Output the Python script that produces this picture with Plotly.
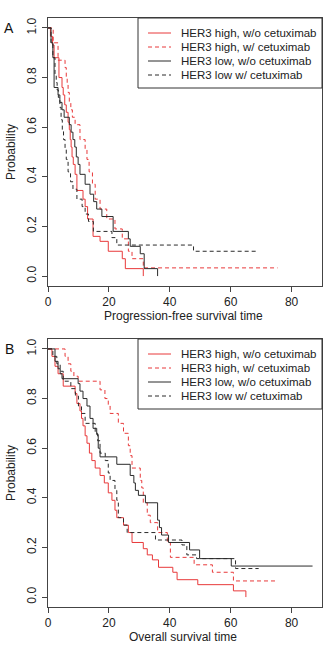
import plotly.graph_objects as go

# ---------------- data ----------------
series_names = ["HER3 high, w/o cetuximab", "HER3 high, w/ cetuximab",
                "HER3 low, w/o cetuximab", "HER3 low w/ cetuximab"]

# Panel A: progression-free survival
pfs_hi_wo_t = [0, 0.8, 1.5, 2.0, 3.6, 4.6, 5.0, 5.5, 6.0, 6.6, 7.0, 7.3, 7.6, 7.9, 8.3, 8.9, 9.5, 11.5, 12.2, 13.0, 14.8, 17.1, 19.8, 24.4, 25.4, 31.3]
pfs_hi_wo_s = [1.0, 0.966, 0.931, 0.88, 0.80, 0.76, 0.73, 0.69, 0.66, 0.62, 0.59, 0.55, 0.52, 0.48, 0.45, 0.41, 0.345, 0.31, 0.28, 0.23, 0.16, 0.14, 0.10, 0.07, 0.03, 0.0]

pfs_hi_w_t = [0, 1.7, 3.3, 5.6, 6.0, 6.3, 6.6, 7.0, 7.5, 8.0, 8.9, 10.5, 12.2, 12.8, 13.5, 14.6, 15.5, 17.1, 19.3, 22.0, 24.4, 26.4, 27.6, 31.3, 75.4]
pfs_hi_w_s = [1.0, 0.94, 0.87, 0.84, 0.80, 0.77, 0.74, 0.70, 0.67, 0.64, 0.61, 0.55, 0.51, 0.47, 0.42, 0.37, 0.31, 0.27, 0.23, 0.19, 0.15, 0.10, 0.07, 0.033, 0.033]

pfs_lo_wo_t = [0, 1.0, 1.6, 2.0, 3.3, 3.9, 4.6, 5.3, 7.0, 7.6, 8.2, 8.8, 9.3, 9.9, 10.5, 12.2, 13.8, 15.0, 16.0, 17.7, 21.4, 26.4, 27.0, 30.3, 31.6, 36.0]
pfs_lo_wo_s = [1.0, 0.94, 0.88, 0.76, 0.73, 0.70, 0.67, 0.64, 0.61, 0.58, 0.55, 0.52, 0.48, 0.45, 0.41, 0.37, 0.33, 0.30, 0.27, 0.24, 0.18, 0.15, 0.12, 0.09, 0.03, 0.0]

pfs_lo_w_t = [0, 1.0, 1.6, 2.3, 2.7, 3.0, 3.4, 3.9, 4.3, 4.7, 5.1, 5.6, 6.0, 6.6, 7.4, 8.2, 9.5, 11.2, 12.2, 13.3, 14.9, 21.0, 22.6, 47.8, 68.9]
pfs_lo_w_s = [1.0, 0.94, 0.88, 0.81, 0.78, 0.75, 0.72, 0.68, 0.63, 0.59, 0.55, 0.51, 0.47, 0.42, 0.38, 0.35, 0.31, 0.28, 0.25, 0.22, 0.18, 0.155, 0.125, 0.10, 0.10]

# Panel B: overall survival
os_hi_wo_t = [0, 1.3, 2.3, 3.3, 5.0, 8.9, 9.5, 10.5, 11.0, 11.5, 12.2, 12.8, 13.6, 14.4, 15.5, 17.1, 18.5, 19.8, 21.0, 22.0, 22.6, 24.8, 26.4, 27.6, 31.3, 32.6, 34.3, 36.3, 41.0, 42.4, 49.2, 60.9, 65.0]
os_hi_wo_s = [1.0, 0.97, 0.93, 0.90, 0.85, 0.82, 0.78, 0.75, 0.72, 0.69, 0.65, 0.62, 0.58, 0.55, 0.52, 0.49, 0.46, 0.42, 0.39, 0.35, 0.32, 0.29, 0.26, 0.22, 0.195, 0.17, 0.15, 0.12, 0.10, 0.07, 0.05, 0.025, 0.0]

os_hi_w_t = [0, 5.6, 6.6, 7.5, 8.5, 9.9, 17.1, 18.7, 19.8, 20.4, 23.1, 24.8, 26.4, 27.0, 27.6, 30.3, 30.8, 31.3, 32.6, 33.6, 36.0, 39.2, 40.2, 48.0, 54.0, 60.9, 75.4]
os_hi_w_s = [1.0, 0.97, 0.94, 0.91, 0.89, 0.87, 0.835, 0.80, 0.77, 0.74, 0.70, 0.66, 0.61, 0.57, 0.52, 0.47, 0.44, 0.38, 0.33, 0.30, 0.26, 0.22, 0.16, 0.13, 0.10, 0.065, 0.065]

os_lo_wo_t = [0, 2.3, 3.3, 4.0, 4.6, 9.9, 10.5, 11.5, 12.8, 13.8, 14.8, 16.0, 16.5, 17.1, 22.6, 27.0, 28.2, 28.7, 29.7, 32.0, 36.0, 36.6, 37.3, 39.6, 46.5, 49.8, 60.2, 86.9]
os_lo_wo_s = [1.0, 0.95, 0.92, 0.90, 0.88, 0.86, 0.83, 0.80, 0.77, 0.72, 0.68, 0.655, 0.60, 0.565, 0.535, 0.49, 0.46, 0.43, 0.41, 0.38, 0.31, 0.28, 0.25, 0.22, 0.19, 0.155, 0.125, 0.125]

os_lo_w_t = [0, 1.6, 2.9, 4.0, 5.0, 7.5, 9.0, 10.0, 11.0, 12.2, 15.5, 16.3, 17.1, 18.8, 19.8, 20.4, 22.0, 22.6, 23.1, 24.8, 26.0, 35.3, 44.0, 45.6, 48.8, 61.6, 69.2]
os_lo_w_s = [1.0, 0.97, 0.94, 0.91, 0.87, 0.84, 0.81, 0.77, 0.74, 0.70, 0.66, 0.63, 0.58, 0.55, 0.50, 0.47, 0.43, 0.39, 0.32, 0.29, 0.26, 0.23, 0.21, 0.17, 0.155, 0.115, 0.115]

x_ticks = [0, 20, 40, 60, 80]
y_ticks = [0.0, 0.2, 0.4, 0.6, 0.8, 1.0]
y_tick_labels = ["0.0", "0.2", "0.4", "0.6", "0.8", "1.0"]
x_titles = ["Progression-free survival time", "Overall survival time"]
panel_labels = ["A", "B"]

# ---------------- styling ----------------
RED = "#e8393a"
BLK = "#2a2a2a"
FONT = "Liberation Sans, Arial, Helvetica, sans-serif"
styles = [(RED, "solid"), (RED, "4px,3px"), (BLK, "solid"), (BLK, "4px,3px")]

W, H = 326, 647
ML, MR, MT, MB = 48, 4, 18, 40
PW, PH = W - ML - MR, H - MT - MB

def px_x(px):
    return (px - ML) / PW

def px_y(py):
    return (H - MB - py) / PH

fig = go.Figure()

panels = [
    ([pfs_hi_wo_t, pfs_hi_w_t, pfs_lo_wo_t, pfs_lo_w_t],
     [pfs_hi_wo_s, pfs_hi_w_s, pfs_lo_wo_s, pfs_lo_w_s], "x", "y"),
    ([os_hi_wo_t, os_hi_w_t, os_lo_wo_t, os_lo_w_t],
     [os_hi_wo_s, os_hi_w_s, os_lo_wo_s, os_lo_w_s], "x2", "y2"),
]

for ts, ss, xa, ya in panels:
    for name, t, s, (col, dash) in zip(series_names, ts, ss, styles):
        fig.add_trace(go.Scatter(x=t, y=s, mode="lines", line_shape="hv",
                                 line=dict(color=col, width=1, dash=dash),
                                 name=name, showlegend=False, xaxis=xa, yaxis=ya,
                                 hoverinfo="skip"))

# panel boxes in pixel terms
box_top = [18, 339]
box_bot = [286, 607]

axis_common = dict(showline=True, mirror=True, linecolor="#444", linewidth=1,
                   showgrid=False, zeroline=False, ticks="outside", ticklen=5,
                   tickcolor="#444", tickwidth=1,
                   tickfont=dict(family=FONT, size=12, color="#222"))

fig.update_layout(
    width=W, height=H,
    margin=dict(l=ML, r=MR, t=MT, b=MB, pad=0),
    paper_bgcolor="white", plot_bgcolor="white",
    showlegend=False,
    xaxis=dict(domain=[0, 1], range=[0, 90], tickvals=x_ticks, anchor="y", **axis_common),
    yaxis=dict(domain=[px_y(box_bot[0]), px_y(box_top[0])], range=[-0.04, 1.04],
               tickvals=y_ticks, ticktext=y_tick_labels, tickangle=-90, anchor="x",
               ticklabelstandoff=1, **axis_common),
    xaxis2=dict(domain=[0, 1], range=[0, 90], tickvals=x_ticks, anchor="y2", **axis_common),
    yaxis2=dict(domain=[px_y(box_bot[1]), px_y(box_top[1])], range=[-0.04, 1.04],
                tickvals=y_ticks, ticktext=y_tick_labels, tickangle=-90, anchor="x2",
                ticklabelstandoff=1, **axis_common),
)

annotations = []
shapes = []
for i in range(2):
    top, bot = box_top[i], box_bot[i]
    mid = (top + bot) / 2
    # axis titles
    annotations.append(dict(text=x_titles[i], xref="paper", yref="paper",
                            x=px_x(183), y=px_y(bot + 30), xanchor="center", yanchor="middle",
                            showarrow=False, font=dict(family=FONT, size=12, color="#222")))
    annotations.append(dict(text="Probability", xref="paper", yref="paper",
                            x=px_x(11), y=px_y(mid), xanchor="center", yanchor="middle",
                            textangle=-90, showarrow=False,
                            font=dict(family=FONT, size=12, color="#222")))
    annotations.append(dict(text=panel_labels[i], xref="paper", yref="paper",
                            x=px_x(9), y=px_y(top + 10), xanchor="center", yanchor="middle",
                            showarrow=False, font=dict(family=FONT, size=14, color="#111")))
    # legend
    lx0, lx1 = 138, W - MR
    ly0, ly1 = top, top + 70
    shapes.append(dict(type="rect", xref="paper", yref="paper",
                       x0=px_x(lx0), x1=px_x(lx1), y0=px_y(ly1), y1=px_y(ly0),
                       line=dict(color="#333", width=1), fillcolor="white", layer="above"))
    for j, (name, (col, dash)) in enumerate(zip(series_names, styles)):
        ry = top + 15 + 14 * j
        shapes.append(dict(type="line", xref="paper", yref="paper",
                           x0=px_x(148), x1=px_x(171), y0=px_y(ry), y1=px_y(ry),
                           line=dict(color=col, width=1, dash=dash), layer="above"))
        annotations.append(dict(text=name, xref="paper", yref="paper",
                                x=px_x(179), y=px_y(ry), xanchor="left", yanchor="middle",
                                showarrow=False,
                                font=dict(family=FONT, size=11.5, color="#222")))

fig.update_layout(annotations=annotations, shapes=shapes)
fig.write_html("out.html")
